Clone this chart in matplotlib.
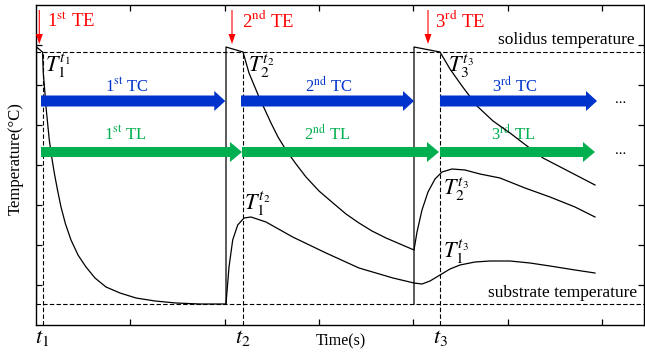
import numpy as np
import matplotlib.pyplot as plt
import matplotlib.transforms as mtransforms

plt.rcParams['font.family'] = ['Liberation Serif', 'DejaVu Serif']
plt.rcParams['mathtext.fontset'] = 'stix'

# reference levels and instants (arbitrary units, no numbers on the axes)
solidus = 273
substrate = 21
t_marks = [6.5, 207, 404]
t_labels = ['$t_1$', '$t_2$', '$t_3$']

# first layer: cools down, then reheated by layer 2 and layer 3
layer1_time = [0.5, 0.5, 6.5, 7.3, 8.7, 10, 11.7, 13.3, 15.7, 18.3, 21.5, 25, 29.5,
               35, 42, 50, 59, 70, 84, 100, 119, 140, 164, 190,
               193, 196.7, 201.7, 208, 215, 230, 256.7, 290, 323, 357, 378, 386,
               394, 404, 414, 424, 439, 454, 474, 494, 514, 539, 559]
layer1_temp = [21, 278, 273, 252, 235, 218, 201, 185, 168, 152, 135, 118, 101,
               85, 70, 58, 47, 38, 32, 27, 24, 22, 21, 21,
               58, 85, 100, 107, 108, 103, 88, 72, 57, 47, 42, 41,
               44, 50, 56, 60, 63, 64, 64, 62, 59, 55, 52]

# second layer
layer2_time = [190, 190, 207, 213, 223, 229, 235, 242, 250, 260, 270, 283, 297,
               310, 323, 336, 350, 364, 378,
               381, 386, 392, 399, 406, 416, 429, 444, 464, 489, 514, 539, 559]
layer2_temp = [21, 278, 273, 252, 228, 215, 202, 188, 175, 161, 148, 134, 122,
               111, 102, 94, 87, 81, 75,
               93, 115, 133, 146, 153, 156, 155, 151, 147, 137, 128, 118, 108]

# third layer
layer3_time = [378, 378, 404, 414, 426, 441, 457, 474, 491, 507, 534, 559]
layer3_temp = [21, 278, 273, 256, 239, 219, 204, 192, 179, 167, 153, 140]

# thermal events (TE), cycles (TC) and loads (TL)
te_time = [3.3, 196, 392]
te_labels = ['1$^{\\rm st}$ TE', '2$^{\\rm nd}$ TE', '3$^{\\rm rd}$ TE']
te_label_x = [11, 205.7, 399]

tc_start = [5, 205, 404]
tc_end = [189.3, 378, 561]
tc_level = 224
tc_labels = ['1$^{\\rm st}$ TC', '2$^{\\rm nd}$ TC', '3$^{\\rm rd}$ TC']
tc_label_x = [91, 293, 479]

tl_start = [5, 206, 404]
tl_end = [206, 403, 559]
tl_level = 173
tl_labels = ['1$^{\\rm st}$ TL', '2$^{\\rm nd}$ TL', '3$^{\\rm rd}$ TL']
tl_label_x = [89, 291.5, 477]

# peak temperature labels
peak_labels = ['$T_1^{t_1}$', '$T_2^{t_2}$', '$T_3^{t_3}$', '$T_1^{t_2}$', '$T_2^{t_3}$', '$T_1^{t_3}$']
peak_x = [9, 212, 412, 208, 407, 407]
peak_y = [253, 253, 253, 115, 130, 67]

blue = '#0033cc'
green = '#00b050'
red = '#ff0000'

fig = plt.figure(figsize=(6.45, 3.53), dpi=100)
ax = fig.add_axes([36 / 645, 28 / 353, 607.5 / 645, 320 / 353])
ax.set_xlim(0, 607.5)
ax.set_ylim(0, 320)

# reference lines
ax.axhline(solidus, color='black', lw=0.8, ls=(0, (4, 2)), zorder=1)
ax.axhline(substrate, color='black', lw=0.8, ls=(0, (4, 2)), zorder=1)
for t in t_marks:
    ax.plot([t, t], [0, solidus], color='black', lw=0.8, ls=(0, (4, 2)), zorder=1)

# temperature histories
ax.plot(layer1_time, layer1_temp, color='black', lw=0.9, zorder=2)
ax.plot(layer2_time, layer2_temp, color='black', lw=0.9, zorder=2)
ax.plot(layer3_time, layer3_temp, color='black', lw=0.9, zorder=2)

# arrows
for s, e in zip(tc_start, tc_end):
    ax.arrow(s, tc_level, e - s, 0, width=11, head_width=20, head_length=11,
             length_includes_head=True, color=blue, lw=0, zorder=3)
for s, e in zip(tl_start, tl_end):
    ax.arrow(s, tl_level, e - s, 0, width=10, head_width=20, head_length=12,
             length_includes_head=True, color=green, lw=0, zorder=3)
for t in te_time:
    ax.arrow(t, 315, 0, -34, width=1.1, head_width=7, head_length=10,
             length_includes_head=True, color=red, lw=0, zorder=3)

for x, lab in zip(te_label_x, te_labels):
    ax.text(x, 298, lab, color=red, fontsize=13.5, ha='left', va='baseline')
for x, lab in zip(tc_label_x, tc_labels):
    ax.text(x, 233.5, lab, color=blue, fontsize=12, ha='center', va='baseline')
for x, lab in zip(tl_label_x, tl_labels):
    ax.text(x, 185, lab, color=green, fontsize=12, ha='center', va='baseline', zorder=1)
for x, y, lab in zip(peak_x, peak_y, peak_labels):
    ax.text(x, y, lab, fontsize=16, ha='left', va='baseline', zorder=4)

ax.text(585, tc_level - 2, '...', fontsize=11, ha='center', va='baseline')
ax.text(585, tl_level - 2, '...', fontsize=11, ha='center', va='baseline')
ax.text(599, 280.5, 'solidus temperature', fontsize=12.5, ha='right', va='baseline')
ax.text(601, 28, 'substrate temperature', fontsize=12.5, ha='right', va='baseline')

# axes and ticks
ax.set_xticks(np.arange(1, 7) * 94.3)
ax.set_xticklabels([])
ax.set_yticks(np.arange(40, 320, 40))
ax.set_yticklabels([])
ax.set_xticks(t_marks, t_labels, minor=True)
ax.tick_params(which='major', direction='in', length=4.3, width=0.9,
               top=True, right=True)
ax.tick_params(axis='x', which='minor', length=0, labelsize=16, pad=2)
for sp in ax.spines.values():
    sp.set_linewidth(1.0)

trans_x = mtransforms.blended_transform_factory(ax.transData, ax.transAxes)
trans_y = mtransforms.blended_transform_factory(ax.transAxes, ax.transData)
ax.text(305, -0.0625, 'Time(s)', transform=trans_x, fontsize=11.5,
        ha='center', va='baseline')
ax.text(-0.0337, 166, 'Temperature(°C)', transform=trans_y, fontsize=12,
        rotation=90, ha='center', va='center')

plt.savefig('out.png', dpi=100)
